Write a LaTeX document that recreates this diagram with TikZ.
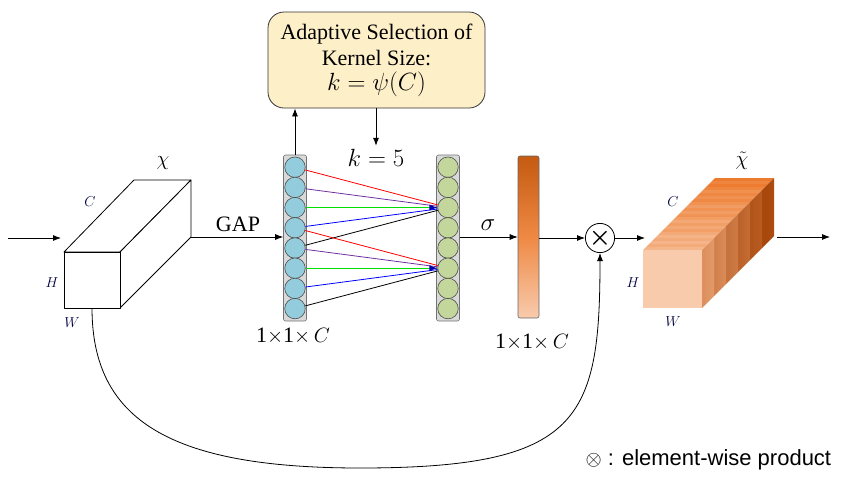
\documentclass[tikz,border=0pt]{standalone}
\usepackage{fontspec}
\setmainfont{Liberation Serif}
\newfontfamily\legendfont{Liberation Sans}
\usetikzlibrary{arrows.meta,positioning}
\definecolor{selfill}{HTML}{FDEFC8}
\definecolor{gapblue}{HTML}{93CDDD}
\definecolor{convgreen}{HTML}{C3D69B}
\definecolor{sigdark}{HTML}{C55A11}
\definecolor{sigmid}{HTML}{ED7D31}
\definecolor{siglight}{HTML}{F8CBAD}
\definecolor{sidefront}{HTML}{F4B183}
\definecolor{sideback}{HTML}{A9480C}
\definecolor{colgray}{HTML}{D9D9D9}
\definecolor{linepurple}{HTML}{7030A0}
\definecolor{linegreen}{HTML}{00E000}
\tikzset{
  flow/.style   ={-{Latex[length=8pt,width=6pt]}, line width=0.8pt},
  cubeln/.style ={line width=0.8pt, fill=white, line join=round},
  colbox/.style ={draw=black!55, fill=colgray, rounded corners=2pt,
                  minimum width=23pt, minimum height=166pt, inner sep=0pt,
                  line width=0.6pt},
  bcirc/.style  ={draw=black!70, circle, fill=gapblue, minimum size=20.5pt,
                  inner sep=0pt, line width=0.6pt},
  gcirc/.style  ={draw=black!70, circle, fill=convgreen, minimum size=20.5pt,
                  inner sep=0pt, line width=0.6pt},
  kline/.style  ={line width=0.8pt},
  ktip/.style   ={-{Latex[length=8pt,width=6pt,color=blue!70!black]}},
  selbox/.style ={draw=black!80, fill=selfill, rounded corners=16pt,
                  minimum width=217pt, minimum height=96pt, align=center,
                  line width=0.8pt, font=\fontsize{22}{26}\selectfont},
  sigbar/.style ={draw=black!60, rounded corners=2pt, top color=sigdark,
                  bottom color=siglight, middle color=sigmid!85!siglight,
                  minimum width=21pt, minimum height=162pt, inner sep=0pt,
                  line width=0.6pt},
  prod/.style   ={draw, circle, minimum size=28pt, inner sep=0pt,
                  line width=0.8pt, font=\fontsize{26}{26}\selectfont\boldmath},
  dimlbl/.style ={font=\fontsize{15}{15}\selectfont, text=blue!25!black},
  txt/.style    ={font=\fontsize{22}{22}\selectfont},
}
\begin{document}
\begin{tikzpicture}[x=1pt,y=-1pt]
  \useasboundingbox (0,0) rectangle (851,485);

  % input feature cube
  \coordinate (xin) at (8,238);
  \coordinate (xend) at (61,238);
  \coordinate (xback) at (191,237);
  \coordinate (xw) at (92,308);
  \draw[cubeln] (64,252) -- (134,180) -- (191,180) -- (120,252) -- cycle;
  \draw[cubeln] (120,252) -- (191,180) -- (191,237) -- (120,308) -- cycle;
  \draw[cubeln] (64,252) rectangle (120,308);
  \node[txt] (xlbl) at (163,163) {$\chi$};
  \node[dimlbl] (xc) at (90,202) {$C$};
  \node[dimlbl] (xh) at (52,283) {$H$};
  \node[dimlbl] (xwl) at (72,323) {$W$};
  \draw[flow] (xin) -- (xend);

  % GAP column
  \node[colbox] (bcol) at (295,238) {};
  \foreach \i in {1,...,8}
    \node[bcirc] (b\i) at (295,{147+20.2*\i}) {};
  \node[txt] (gap) at (238,224) {GAP};
  \draw[flow] (xback) -- (xback -| bcol.west);
  \node[txt] (bdim) at (293,336) {1$\times$1$\times$\,$C$};

  % conv column
  \node[colbox] (gcol) at (448,238) {};
  \foreach \i in {1,...,8}
    \node[gcirc] (g\i) at (448,{147+20.2*\i}) {};

  % kernel connections
  \draw[kline, red] (b1) -- (g3);
  \draw[kline, linepurple] (b2) -- (g3);
  \draw[kline, blue] (b4) -- (g3);
  \draw[kline, black] (b5) -- (g3);
  \draw[kline, linegreen, ktip] (b3) -- (g3);
  \draw[kline, red] (b4) -- (g6);
  \draw[kline, linepurple] (b5) -- (g6);
  \draw[kline, blue] (b7) -- (g6);
  \draw[kline, black] (b8) -- (g6);
  \draw[kline, linegreen, ktip] (b6) -- (g6);

  % kernel size selection
  \node[selbox] (sel) at (376.5,60)
    {Adaptive Selection of\\Kernel Size:\\[-1pt]
     {\fontsize{32}{32}\selectfont$k=\psi(C)$}};
  \draw[flow] (bcol.north) -- (bcol.north |- sel.south);
  \node[font=\fontsize{25}{25}\selectfont] (kval) at (376,158) {$k=5$};
  \draw[flow] (sel.south -| kval) -- (kval.north);

  % sigmoid weights
  \node[sigbar] (bar) at (528.5,237) {};
  \node[font=\fontsize{28}{28}\selectfont] (sig) at (488,225) {$\sigma$};
  \draw[flow] (gcol.east |- bar) -- (bar.west);
  \node[txt] (wdim) at (532,342) {1$\times$1$\times$\,$C$};

  % element-wise product
  \node[prod] (mul) at (600,238) {$\times$};
  \draw[flow] (bar.east |- mul) -- (mul.west);
  \coordinate (yin) at (645,238);
  \draw[flow] (mul.east) -- (yin);
  \coordinate (ybot) at (360,468);
  \draw[flow] (xw) .. controls (92,420) and (170,468) .. (ybot)
                   .. controls (580,468) and (600,420) .. (mul.south);

  % output feature cube
  \foreach \i in {24,...,1} {
    \pgfmathtruncatemacro{\ptop}{15+3*\i+mod(\i*7,5)*5}
    \pgfmathtruncatemacro{\pside}{min(100,10+3.6*\i+mod(\i*3,4)*6)}
    \fill[sigmid!\ptop!siglight]
      ({643+3*(\i-1)},{250-3*(\i-1)}) -- ({702+3*(\i-1)},{250-3*(\i-1)})
      -- ({702+3*\i},{250-3*\i}) -- ({643+3*\i},{250-3*\i}) -- cycle;
    \fill[sideback!\pside!sidefront]
      ({702+3*(\i-1)},{250-3*(\i-1)}) -- ({702+3*\i},{250-3*\i})
      -- ({702+3*\i},{308-3*\i}) -- ({702+3*(\i-1)},{308-3*(\i-1)}) -- cycle;
  }
  \fill[siglight] (643,250) rectangle (702,308);
  \node[txt] (ylbl) at (742,161) {$\tilde{\chi}$};
  \node[dimlbl] (yc) at (673,202) {$C$};
  \node[dimlbl] (yh) at (633,283) {$H$};
  \node[dimlbl] (ywl) at (673,322) {$W$};
  \coordinate (yback) at (777,237);
  \coordinate (yout) at (830,237);
  \draw[flow] (yback) -- (yout);

  % legend
  \node[font=\legendfont\fontsize{22}{22}\selectfont, anchor=west] (legend)
    at (582,460) {$\otimes$ : element-wise product};
\end{tikzpicture}
\end{document}
